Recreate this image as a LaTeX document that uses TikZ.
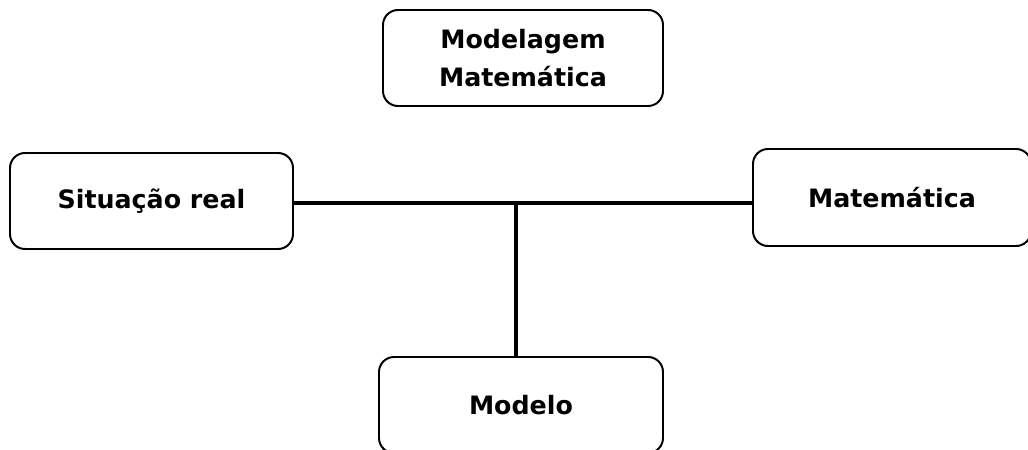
\documentclass[tikz,border=0pt]{standalone}
\usepackage{fontspec}
\setmainfont{DejaVu Sans}
\usetikzlibrary{positioning}

\begin{document}
\begin{tikzpicture}[x=0.25mm, y=-0.25mm, line width=1.4pt,
        font=\fontsize{18}{27}\selectfont\bfseries,
        caixa/.style={draw, rounded corners=3.75mm, align=center, inner sep=0pt}]
        \useasboundingbox (0,0) rectangle (1028,450);

        \node[caixa, minimum width=70mm, minimum height=24mm] (modelagem) at (523,58) {Modelagem\\Matemática};
        \node[caixa, minimum width=70.75mm, minimum height=24mm] (situacao) at (151.5,201) {Situação real};
        \node[caixa, minimum width=69.5mm, minimum height=24.25mm] (matematica) at (892,197.5) {Matemática};
        \node[caixa, minimum width=71mm, minimum height=24mm] (modelo) at (521,405) {Modelo};

        \coordinate (juncao) at (516,203);
        \draw[line width=2.2pt] (situacao.east |- juncao) -- (matematica.west |- juncao);
        \draw[line width=2.2pt] (juncao) -- (juncao |- modelo.north);
    \end{tikzpicture}
\end{document}
